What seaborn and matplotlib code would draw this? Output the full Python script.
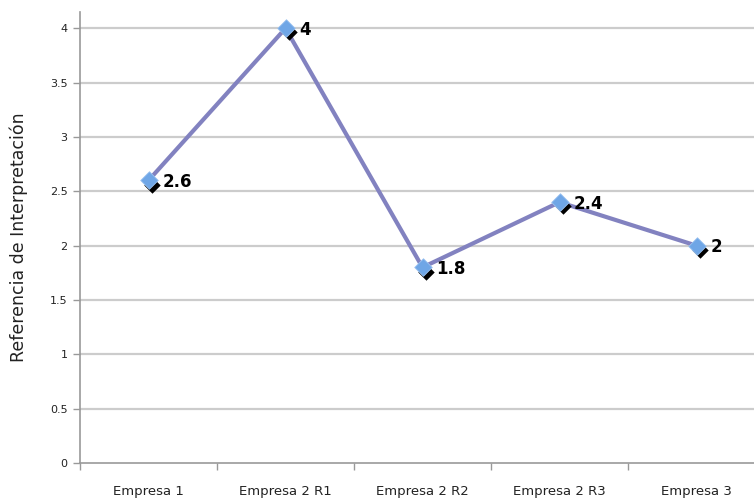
import matplotlib
matplotlib.use("Agg")
import matplotlib.pyplot as plt
import matplotlib.transforms as mtransforms
from matplotlib.ticker import FixedLocator
import seaborn as sns
import pandas as pd

categories = ["Empresa 1", "Empresa 2 R1", "Empresa 2 R2", "Empresa 2 R3", "Empresa 3"]
values = [2.6, 4.0, 1.8, 2.4, 2.0]
value_labels = ["2.6", "4", "1.8", "2.4", "2"]
y_ticks = [0, 0.5, 1, 1.5, 2, 2.5, 3, 3.5, 4]
y_tick_labels = ["0", "0.5", "1", "1.5", "2", "2.5", "3", "3.5", "4"]
y_title = "Referencia de Interpretación"

sns.set_theme(style="white")
plt.rcParams["font.family"] = ["DejaVu Sans"]

df = pd.DataFrame({"cat": categories, "pos": range(len(categories)), "val": values})

fig = plt.figure(figsize=(7.54, 5.01), dpi=100)
ax = fig.add_axes([80 / 754, 1 - 463 / 501, 685 / 754, (463 - 12) / 501])

for yt in y_ticks[1:]:
    ax.axhline(yt, color="#cccccc", lw=1.6, zorder=0)

sns.lineplot(data=df, x="pos", y="val", ax=ax, color="#8282C0", lw=3, zorder=2)

# shadow of markers
shadow = mtransforms.offset_copy(ax.transData, fig=fig, x=2.5, y=-3, units="points")
ax.scatter(df["pos"], df["val"], marker="D", s=70, color="black", transform=shadow, zorder=3, linewidths=0)
sns.scatterplot(data=df, x="pos", y="val", ax=ax, marker="D", s=80, color="#6FA6E6",
                edgecolor="#9CC3F0", linewidth=0.6, zorder=4)

for p, v, lab in zip(df["pos"], df["val"], value_labels):
    ax.annotate(lab, (p, v), xytext=(10, -1), textcoords="offset points",
                ha="left", va="center", fontsize=12, fontweight="bold", color="black", zorder=5)

ax.set_xlim(-0.5, len(categories) - 0.5)
ax.set_ylim(0, 4.15)
ax.set_yticks(y_ticks)
ax.set_yticklabels(y_tick_labels, fontsize=8, color="#222222")
ax.set_xticks(range(len(categories)))
ax.set_xticklabels(categories, fontsize=9.5, color="#222222")
ax.tick_params(axis="x", length=0, pad=16)
ax.tick_params(axis="y", length=5, width=1, color="#999999", direction="out", left=True, pad=4)

ax.xaxis.set_minor_locator(FixedLocator([i - 0.5 for i in range(len(categories) + 1)]))
ax.tick_params(axis="x", which="minor", length=5, width=1, color="#999999", bottom=True, direction="out")

for s in ["top", "right"]:
    ax.spines[s].set_visible(False)
for s in ["left", "bottom"]:
    ax.spines[s].set_color("#999999")
    ax.spines[s].set_linewidth(1.2)

ax.set_xlabel("")
ax.set_ylabel(y_title, fontsize=12.5, color="#222222", labelpad=16)

fig.savefig("out.png", dpi=100)
